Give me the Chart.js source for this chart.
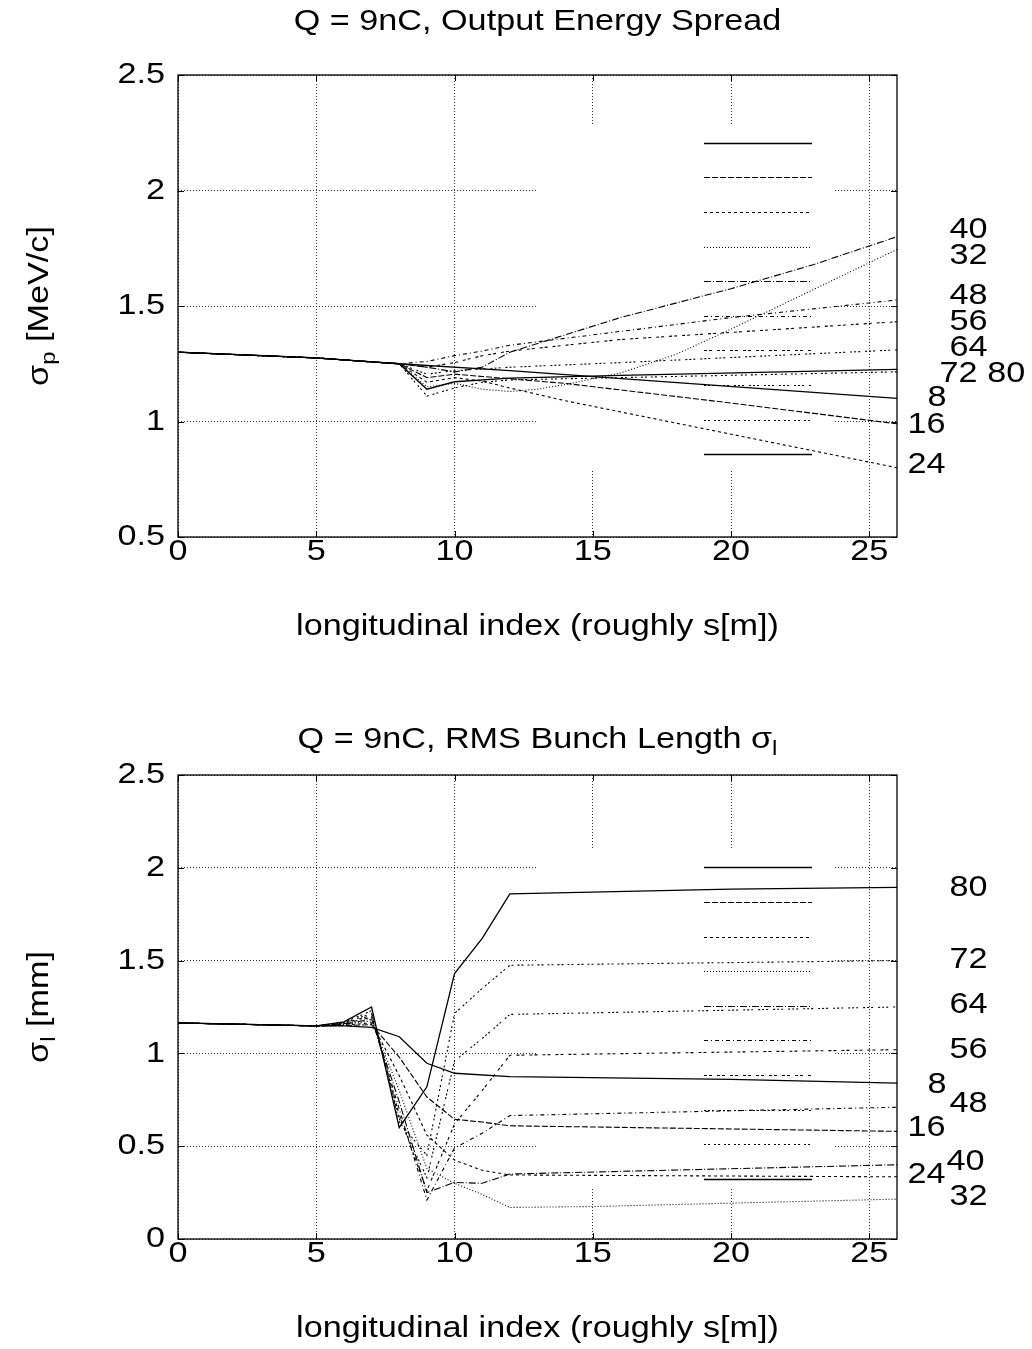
<!DOCTYPE html>
<html>
<head>
<meta charset="utf-8">
<script src="https://cdn.jsdelivr.net/npm/chart.js@4.4.1/dist/chart.umd.min.js"></script>
<style>
  body { margin: 0; background: #fff; }
  canvas { display: block; }
</style>
</head>
<body>
<canvas id="spreadChart" width="1032" height="675"></canvas>
<canvas id="lengthChart" width="1032" height="674"></canvas>
<script>
// tick labels
const xTicks = [0, 5, 10, 15, 20, 25];
const spreadTicks = [0.5, 1, 1.5, 2, 2.5];
const lengthTicks = [0, 0.5, 1, 1.5, 2, 2.5];
const seriesNames = ['8', '16', '24', '32', '40', '48', '56', '64', '72', '80'];

// output energy spread [MeV/c], [index, value] at the visible bends
const spread8  = [[0, 1.30], [5, 1.275], [7, 1.258], [8, 1.25], [12, 1.22], [26, 1.10]];
const spread16 = [[0, 1.30], [5, 1.275], [7, 1.258], [8, 1.25], [9, 1.19], [10, 1.205], [11, 1.195], [12, 1.185], [14, 1.165], [20, 1.08], [26, 0.99]];
const spread24 = [[0, 1.30], [5, 1.275], [7, 1.258], [8, 1.25], [9, 1.17], [10, 1.19], [11, 1.175], [12, 1.145], [14, 1.09], [20, 0.945], [26, 0.80]];
const spread32 = [[0, 1.30], [5, 1.275], [7, 1.258], [8, 1.25], [9, 1.15], [10, 1.165], [11, 1.14], [12, 1.13], [13, 1.14], [14, 1.16], [16, 1.21], [18, 1.29], [20, 1.40], [26, 1.745]];
const spread40 = [[0, 1.30], [5, 1.275], [7, 1.258], [8, 1.25], [9, 1.235], [10, 1.215], [11, 1.235], [12, 1.30], [14, 1.375], [16, 1.45], [20, 1.575], [23, 1.68], [26, 1.80]];
const spread48 = [[0, 1.30], [5, 1.275], [7, 1.258], [8, 1.25], [9, 1.26], [10, 1.285], [11, 1.305], [12, 1.33], [16, 1.39], [20, 1.45], [26, 1.526]];
const spread56 = [[0, 1.30], [5, 1.275], [7, 1.258], [8, 1.25], [9, 1.235], [10, 1.255], [11, 1.285], [12, 1.305], [16, 1.355], [26, 1.432]];
const spread64 = [[0, 1.30], [5, 1.275], [7, 1.258], [8, 1.25], [9, 1.205], [10, 1.22], [12, 1.235], [16, 1.255], [26, 1.31]];
const spread72 = [[0, 1.30], [5, 1.275], [7, 1.258], [8, 1.25], [9, 1.11], [10, 1.145], [11, 1.17], [12, 1.18], [16, 1.19], [26, 1.215]];
const spread80 = [[0, 1.30], [5, 1.275], [7, 1.258], [8, 1.25], [9, 1.14], [10, 1.172], [12, 1.188], [16, 1.20], [26, 1.226]];

// rms bunch length [mm]
const length8  = [[0, 1.164], [5, 1.148], [6, 1.148], [7, 1.14], [8, 1.09], [9, 0.947], [10, 0.893], [12, 0.875], [20, 0.86], [26, 0.84]];
const length16 = [[0, 1.164], [5, 1.148], [6, 1.15], [7, 1.155], [8, 0.98], [9, 0.765], [10, 0.645], [11, 0.63], [12, 0.61], [26, 0.58]];
const length24 = [[0, 1.164], [5, 1.148], [6, 1.152], [7, 1.165], [8, 0.88], [9, 0.56], [10, 0.425], [11, 0.37], [12, 0.345], [26, 0.335]];
const length32 = [[0, 1.164], [5, 1.148], [6, 1.155], [7, 1.175], [8, 0.80], [9, 0.38], [10, 0.30], [11, 0.24], [12, 0.17], [15, 0.175], [26, 0.215]];
const length40 = [[0, 1.164], [5, 1.148], [6, 1.157], [7, 1.185], [8, 0.74], [9, 0.25], [10, 0.305], [11, 0.30], [12, 0.35], [26, 0.40]];
const length48 = [[0, 1.164], [5, 1.148], [6, 1.16], [7, 1.195], [8, 0.70], [9, 0.21], [10, 0.49], [11, 0.57], [12, 0.665], [26, 0.71]];
const length56 = [[0, 1.164], [5, 1.148], [6, 1.162], [7, 1.205], [8, 0.67], [9, 0.26], [10, 0.62], [11, 0.80], [12, 0.99], [26, 1.02]];
const length64 = [[0, 1.164], [5, 1.148], [6, 1.165], [7, 1.215], [8, 0.65], [9, 0.33], [10, 0.96], [11, 1.08], [12, 1.21], [26, 1.25]];
const length72 = [[0, 1.164], [5, 1.148], [6, 1.167], [7, 1.23], [8, 0.63], [9, 0.45], [10, 1.215], [11, 1.35], [12, 1.475], [26, 1.50]];
const length80 = [[0, 1.164], [5, 1.148], [6, 1.17], [7, 1.25], [8, 0.60], [9, 0.82], [10, 1.43], [11, 1.62], [12, 1.86], [20, 1.885], [26, 1.895]];

// curve labels at the right edge (text, index, value)
const spreadLabelText = ['40', '32', '48', '56', '64', '72 80', '8', '16', '24'];
const spreadLabelX = [27.9, 27.9, 27.9, 27.9, 27.9, 27.54, 27.1, 26.38, 26.38];
const spreadLabelY = [1.829, 1.716, 1.543, 1.431, 1.318, 1.206, 1.102, 0.985, 0.812];
const lengthLabelText = ['80', '72', '64', '56', '8', '48', '16', '40', '24', '32'];
const lengthLabelX = [27.9, 27.9, 27.9, 27.9, 27.1, 27.9, 26.38, 27.79, 26.38, 27.9];
const lengthLabelY = [1.891, 1.503, 1.26, 1.018, 0.83, 0.727, 0.598, 0.415, 0.345, 0.226];

// gnuplot line types 1..10
const dashes = [[], [6, 2], [3, 3], [1, 2], [7, 2, 1, 2], [4, 3, 1, 3], [3, 2, 3, 5], [2, 2, 2, 2, 2, 5], [2, 2, 2, 4], []];

const FONT = '"Liberation Sans", Arial, sans-serif';
const STRETCH = 1.14;
const SIZE = 30;

function partWidth(ctx, t, size) {
  ctx.font = size + 'px ' + FONT;
  return ctx.measureText(t).width * STRETCH;
}

// parts: [text, isSubscript]
function drawRich(ctx, parts, x, y, align) {
  let total = 0;
  const ws = parts.map(p => {
    const w = partWidth(ctx, p[0], p[1] ? SIZE * 0.7 : SIZE);
    total += w;
    return w;
  });
  let cx = x;
  if (align === 'center') cx = x - total / 2;
  if (align === 'right') cx = x - total;
  parts.forEach((p, i) => {
    const size = p[1] ? SIZE * 0.7 : SIZE;
    ctx.save();
    ctx.translate(cx, y + (p[1] ? SIZE * 0.3 : 0));
    ctx.scale(STRETCH, 1);
    ctx.font = size + 'px ' + FONT;
    ctx.fillStyle = '#000';
    ctx.textAlign = 'left';
    ctx.textBaseline = 'middle';
    ctx.fillText(p[0], 0, 0);
    ctx.restore();
    cx += ws[i];
  });
}

const gnuplotFrame = {
  id: 'gnuplotFrame',
  beforeDatasetsDraw(chart, args, opts) {
    // key area is cleared over the grid
    const ctx = chart.ctx;
    ctx.save();
    ctx.fillStyle = '#fff';
    ctx.fillRect(opts.key[0], opts.key[1], opts.key[2] - opts.key[0], opts.key[3] - opts.key[1]);
    ctx.restore();
  },
  afterDatasetsDraw(chart, args, opts) {
    const ctx = chart.ctx;
    const a = chart.chartArea;
    const xs = chart.scales.x, ys = chart.scales.y;
    ctx.save();
    // key samples
    chart.data.datasets.forEach((ds, i) => {
      const y = Math.round(opts.sampleTop + i * 34.6) + 0.5;
      ctx.beginPath();
      ctx.setLineDash(ds.borderDash);
      ctx.lineWidth = ds.borderWidth;
      ctx.strokeStyle = '#000';
      ctx.moveTo(704, y);
      ctx.lineTo(812, y);
      ctx.stroke();
    });
    ctx.setLineDash([]);
    // border and inward ticks
    ctx.strokeStyle = '#000';
    ctx.lineWidth = 1.3;
    ctx.strokeRect(a.left, a.top, a.right - a.left, a.bottom - a.top);
    ctx.lineWidth = 1;
    ctx.beginPath();
    xTicks.forEach(v => {
      const px = Math.round(xs.getPixelForValue(v)) + 0.5;
      ctx.moveTo(px, a.bottom); ctx.lineTo(px, a.bottom - 6);
      ctx.moveTo(px, a.top); ctx.lineTo(px, a.top + 6);
    });
    opts.yTicks.forEach(v => {
      const py = Math.round(ys.getPixelForValue(v)) + 0.5;
      ctx.moveTo(a.left, py); ctx.lineTo(a.left + 6, py);
      ctx.moveTo(a.right, py); ctx.lineTo(a.right - 6, py);
    });
    ctx.stroke();
    ctx.restore();
  },
  afterDraw(chart, args, opts) {
    const ctx = chart.ctx;
    const a = chart.chartArea;
    const xs = chart.scales.x, ys = chart.scales.y;
    const mid = (a.left + a.right) / 2;
    xTicks.forEach(v => drawRich(ctx, [[String(v), false]], xs.getPixelForValue(v), a.bottom + 15, 'center'));
    opts.yTicks.forEach(v => drawRich(ctx, [[String(v), false]], a.left - 13, ys.getPixelForValue(v), 'right'));
    opts.labelText.forEach((t, i) => drawRich(ctx, [[t, false]], xs.getPixelForValue(opts.labelX[i]), ys.getPixelForValue(opts.labelY[i]), 'left'));
    drawRich(ctx, opts.title, mid, opts.titleY, 'center');
    drawRich(ctx, [['longitudinal index (roughly s[m])', false]], mid, a.bottom + 90, 'center');
    ctx.save();
    ctx.translate(40, (a.top + a.bottom) / 2);
    ctx.rotate(-Math.PI / 2);
    drawRich(ctx, opts.yTitle, 0, 0, 'center');
    ctx.restore();
  }
};

function makeChart(id, series, yTicks, padding, frame) {
  new Chart(document.getElementById(id), {
    type: 'line',
    data: {
      datasets: series.map((s, i) => ({
        label: seriesNames[i],
        data: s,
        borderColor: '#000',
        borderWidth: dashes[i].length ? 1.1 : 1.3,
        borderDash: dashes[i],
        pointRadius: 0,
        tension: 0,
        fill: false
      }))
    },
    options: {
      responsive: false,
      animation: false,
      devicePixelRatio: 1,
      layout: { padding: padding },
      scales: {
        x: {
          type: 'linear',
          min: 0,
          max: 26,
          afterBuildTicks: ax => { ax.ticks = xTicks.map(v => ({ value: v })); },
          ticks: { display: false },
          grid: { color: '#333', lineWidth: 1, drawTicks: false },
          border: { display: false, dash: [1, 2] }
        },
        y: {
          type: 'linear',
          min: yTicks[0],
          max: yTicks[yTicks.length - 1],
          afterBuildTicks: ax => { ax.ticks = yTicks.map(v => ({ value: v })); },
          ticks: { display: false },
          grid: { color: '#333', lineWidth: 1, drawTicks: false },
          border: { display: false, dash: [1, 2] }
        }
      },
      plugins: {
        legend: { display: false },
        tooltip: { enabled: false },
        gnuplotFrame: Object.assign({ yTicks: yTicks }, frame)
      }
    },
    plugins: [gnuplotFrame]
  });
}

makeChart('spreadChart',
  [spread8, spread16, spread24, spread32, spread40, spread48, spread56, spread64, spread72, spread80],
  spreadTicks,
  { left: 178, right: 135, top: 75, bottom: 138 },
  {
    key: [537, 126, 833, 471],
    sampleTop: 142.7,
    labelText: spreadLabelText, labelX: spreadLabelX, labelY: spreadLabelY,
    title: [['Q = 9nC, Output Energy Spread', false]],
    titleY: 22,
    yTitle: [['\u03c3', false], ['p', true], [' [MeV/c]', false]]
  });

makeChart('lengthChart',
  [length8, length16, length24, length32, length40, length48, length56, length64, length72, length80],
  lengthTicks,
  { left: 178, right: 135, top: 100, bottom: 110 },
  {
    key: [537, 175, 833, 513],
    sampleTop: 192.3,
    labelText: lengthLabelText, labelX: lengthLabelX, labelY: lengthLabelY,
    title: [['Q = 9nC, RMS Bunch Length \u03c3', false], ['l', true]],
    titleY: 65,
    yTitle: [['\u03c3', false], ['l', true], [' [mm]', false]]
  });
</script>
</body>
</html>
